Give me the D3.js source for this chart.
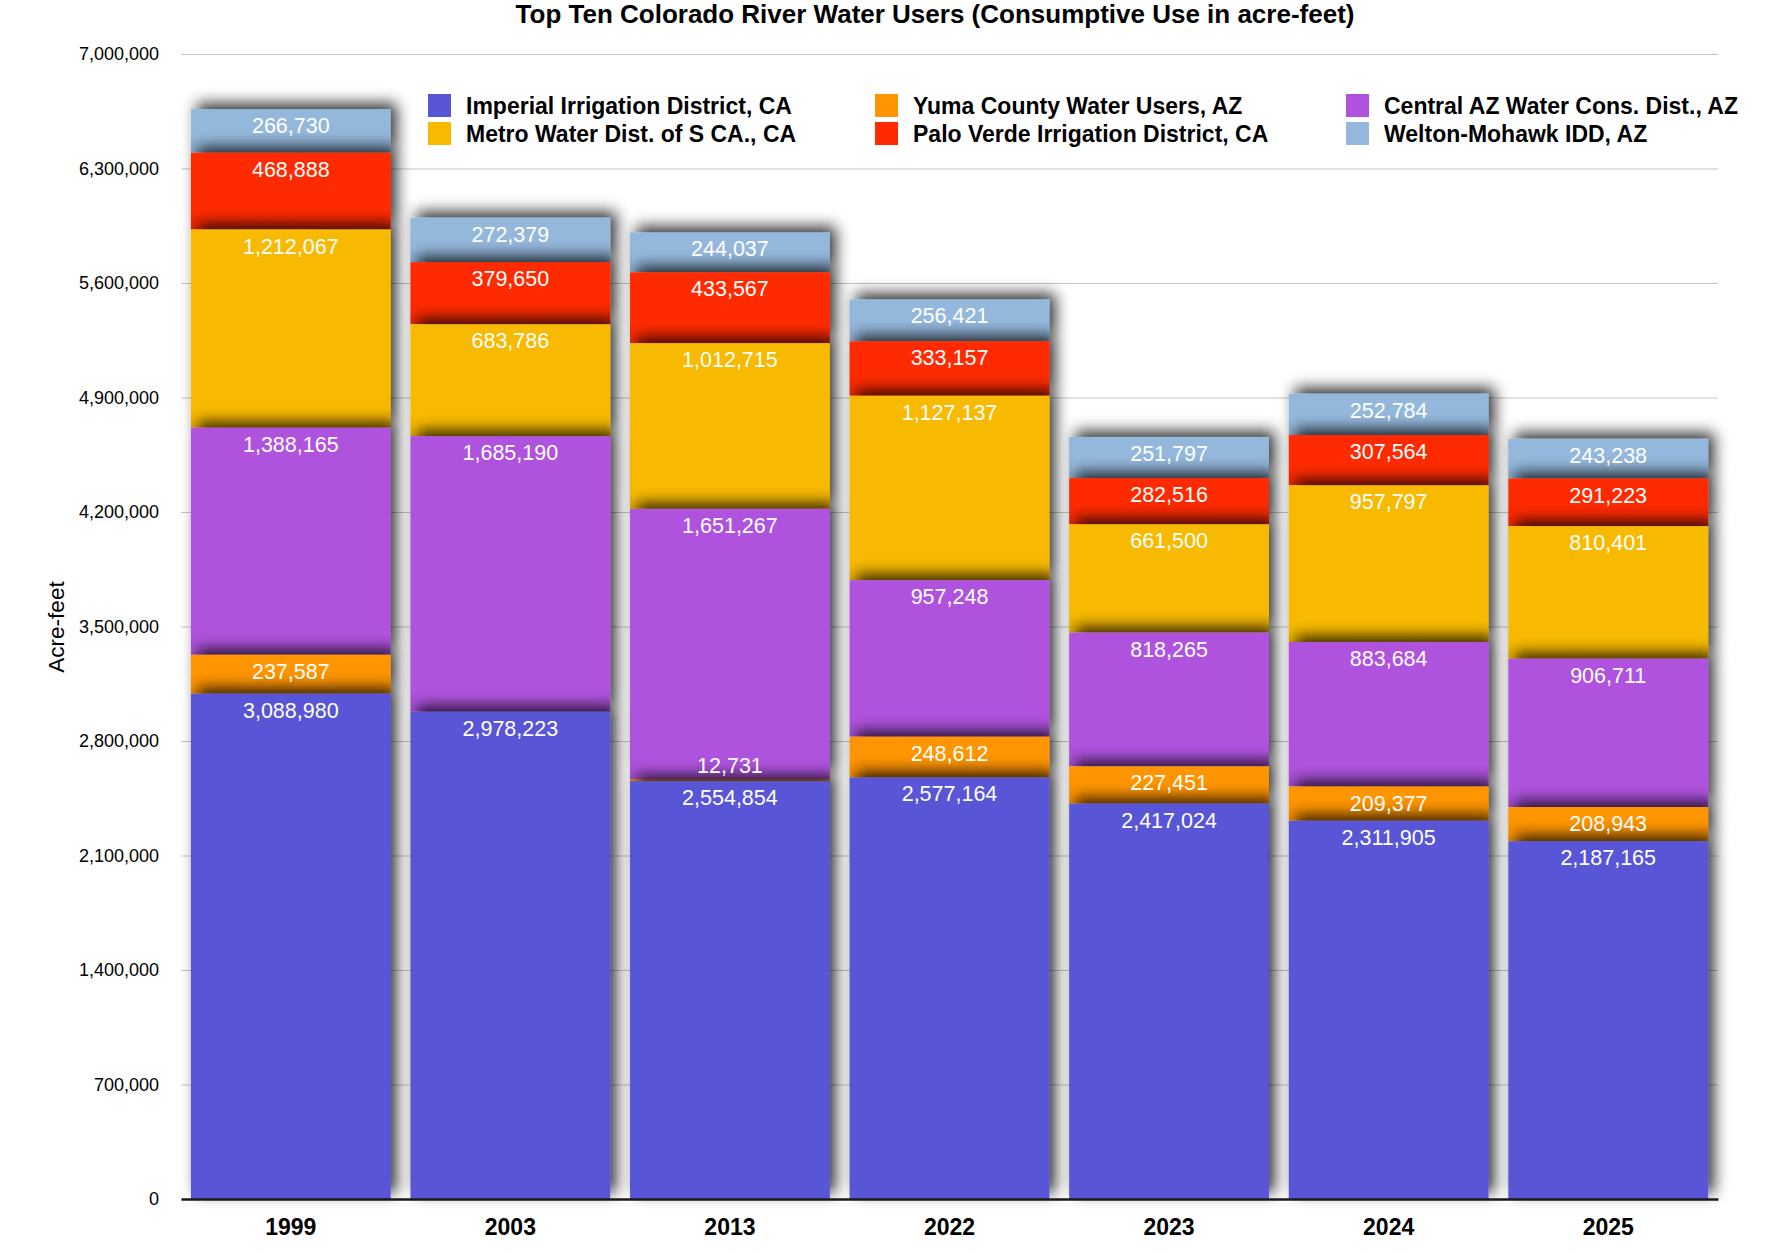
<!DOCTYPE html>
<html lang="en">
<head>
<meta charset="utf-8">
<title>Top Ten Colorado River Water Users</title>
<script src="https://d3js.org/d3.v7.min.js"></script>
<style>
  body { margin: 0; background: #fff; }
  text { font-family: "Liberation Sans", Arial, Helvetica, sans-serif; }
</style>
</head>
<body>
<script>
// data
var years = ["1999", "2003", "2013", "2022", "2023", "2024", "2025"];
var seriesNames = ["Imperial Irrigation District, CA", "Yuma County Water Users, AZ",
  "Central AZ Water Cons. Dist., AZ", "Metro Water Dist. of S CA., CA",
  "Palo Verde Irrigation District, CA", "Welton-Mohawk IDD, AZ"];
var imperial   = [3088980, 2978223, 2554854, 2577164, 2417024, 2311905, 2187165];
var yuma       = [237587, 0, 12731, 248612, 227451, 209377, 208943];
var centralAZ  = [1388165, 1685190, 1651267, 957248, 818265, 883684, 906711];
var metro      = [1212067, 683786, 1012715, 1127137, 661500, 957797, 810401];
var paloVerde  = [468888, 379650, 433567, 333157, 282516, 307564, 291223];
var welton     = [266730, 272379, 244037, 256421, 251797, 252784, 243238];
var yTicks = [0, 700000, 1400000, 2100000, 2800000, 3500000, 4200000, 4900000, 5600000, 6300000, 7000000];
var colors = ["#5856d6", "#ff9500", "#af52de", "#f8ba00", "#ff2a00", "#94b8dc"];

var w = 1772, h = 1254;
var margin = {top: 54, right: 54, bottom: 55, left: 181};
var innerWidth = w - margin.left - margin.right;
var innerHeight = h - margin.top - margin.bottom;

var allSeries = [imperial, yuma, centralAZ, metro, paloVerde, welton];
var rows = years.map(function(yr, i) {
  var r = {year: yr};
  seriesNames.forEach(function(s, j) { r[s] = allSeries[j][i]; });
  return r;
});
var stacked = d3.stack().keys(seriesNames)(rows);

var svg = d3.select("body").append("svg")
    .attr("width", w)
    .attr("height", h);

svg.append("rect").attr("width", w).attr("height", h).attr("fill", "#fff");

// soft shadow, thrown up and to the right
var defs = svg.append("defs");
var f = defs.append("filter").attr("id", "shadow")
    .attr("x", "-25%").attr("y", "-80%").attr("width", "150%").attr("height", "260%");
f.append("feGaussianBlur").attr("in", "SourceAlpha").attr("stdDeviation", 7.5).attr("result", "blur");
f.append("feOffset").attr("in", "blur").attr("dx", 6).attr("dy", -6).attr("result", "off");
f.append("feComponentTransfer").attr("in", "off").attr("result", "dark")
  .append("feFuncA").attr("type", "linear").attr("slope", 0.8);
var fm = f.append("feMerge");
fm.append("feMergeNode").attr("in", "dark");
fm.append("feMergeNode").attr("in", "SourceGraphic");

var g = svg.append("g").attr("transform", `translate(${margin.left},${margin.top})`);

var x = d3.scaleBand().domain(years).range([0, innerWidth])
    .paddingInner(0.09).paddingOuter(0.045);
var y = d3.scaleLinear().domain([0, 7000000]).range([innerHeight, 0]);

// gridlines + y labels
var yAxis = g.append("g")
    .call(d3.axisLeft(y).tickValues(yTicks).tickFormat(d3.format(","))
      .tickSize(-innerWidth).tickPadding(22));
yAxis.select(".domain").remove();
yAxis.selectAll(".tick line").attr("stroke", "#c4c4c4").attr("stroke-width", 1.2);
yAxis.selectAll(".tick text").attr("font-size", 18).attr("fill", "#000")
    .attr("font-family", "'Liberation Sans', Arial, sans-serif");

// bars, top series drawn first so lower segments cast shadow upward
var layers = g.append("g");
stacked.slice().reverse().forEach(function(s) {
  var ci = seriesNames.indexOf(s.key);
  layers.append("g").selectAll("rect")
    .data(s.filter(function(d) { return d[1] - d[0] > 0; }))
    .enter().append("rect")
      .attr("x", function(d) { return x(d.data.year); })
      .attr("y", function(d) { return y(d[1]); })
      .attr("width", x.bandwidth())
      .attr("height", function(d) { return y(d[0]) - y(d[1]); })
      .attr("fill", colors[ci])
      .attr("filter", "url(#shadow)");
});

// value labels
var labels = g.append("g");
stacked.forEach(function(s) {
  labels.selectAll(null)
    .data(s.filter(function(d) { return d[1] - d[0] > 0; }))
    .enter().append("text")
      .attr("x", function(d) { return x(d.data.year) + x.bandwidth() / 2; })
      .attr("y", function(d) {
        var top = y(d[1]), bot = y(d[0]);
        return (bot - top) < 26 ? bot - 8 : top + 24;
      })
      .attr("text-anchor", "middle")
      .attr("font-size", 21.5)
      .attr("fill", "#fff")
      .text(function(d) { return d3.format(",")(d[1] - d[0]); });
});

// x axis
var xAxis = g.append("g")
    .attr("transform", `translate(0,${innerHeight})`)
    .call(d3.axisBottom(x).tickSize(0).tickPadding(20));
xAxis.select(".domain").attr("stroke", "#1a1a1a").attr("stroke-width", 2.5);
xAxis.selectAll(".tick text").attr("font-size", 23).attr("font-weight", "bold")
    .attr("fill", "#000").attr("font-family", "'Liberation Sans', Arial, sans-serif");

// title
svg.append("text")
    .attr("x", 935).attr("y", 23)
    .attr("text-anchor", "middle")
    .attr("font-size", 26).attr("font-weight", "bold")
    .text("Top Ten Colorado River Water Users (Consumptive Use in acre-feet)");

// y axis title
svg.append("text")
    .attr("transform", "translate(64,627) rotate(-90)")
    .attr("text-anchor", "middle")
    .attr("font-size", 22.5)
    .text("Acre-feet");

// legend
var legendX = [428, 875, 1346];
var legendY = [94, 122];
var legend = svg.append("g");
seriesNames.forEach(function(name, i) {
  var order = [0, 3, 1, 4, 2, 5];
  var pos = order.indexOf(i);
  var col = Math.floor(pos / 2), row = pos % 2;
  var item = legend.append("g")
      .attr("transform", `translate(${legendX[col]},${legendY[row]})`);
  item.append("rect").attr("width", 23).attr("height", 23).attr("fill", colors[i]);
  item.append("text").attr("x", 38).attr("y", 19.5)
      .attr("font-size", 23).attr("font-weight", "bold")
      .text(name);
});
</script>
</body>
</html>
